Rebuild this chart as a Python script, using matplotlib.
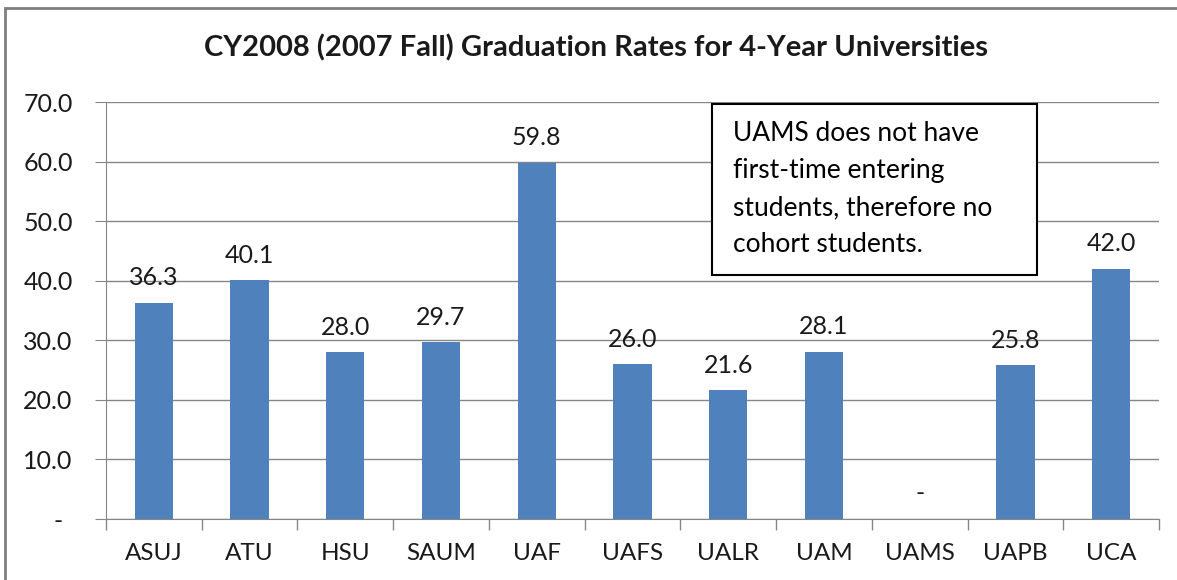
import matplotlib.pyplot as plt
import matplotlib.patches as patches
from matplotlib.transforms import ScaledTranslation
import numpy as np

# data
schools = ["ASUJ", "ATU", "HSU", "SAUM", "UAF", "UAFS", "UALR", "UAM", "UAMS", "UAPB", "UCA"]
grad_rates = [36.3, 40.1, 28.0, 29.7, 59.8, 26.0, 21.6, 28.1, 0.0, 25.8, 42.0]
y_ticks = [0, 10, 20, 30, 40, 50, 60, 70]
title = "CY2008 (2007 Fall) Graduation Rates for 4-Year Universities"
note = "UAMS does not have\nfirst-time entering\nstudents, therefore no\ncohort students."

plt.rcParams['font.family'] = ['Lato', 'DejaVu Sans']

W, H = 1177, 580
fig = plt.figure(figsize=(W / 100, H / 100), dpi=100)
ax = fig.add_axes([106 / W, 1 - 519 / H, (1159 - 106) / W, (519 - 102) / H])

x = np.arange(len(schools))
ax.bar(x, grad_rates, width=0.4, color="#4F81BD", zorder=3)

ax.set_xlim(-0.5, len(schools) - 0.5)
ax.set_ylim(0, 70)
ax.set_yticks(y_ticks)
ax.set_yticklabels(["-" if v == 0 else f"{v:.1f}" for v in y_ticks])
ax.set_xticks(x)
ax.set_xticklabels(schools)
ax.set_xticks(np.arange(len(schools) + 1) - 0.5, minor=True)

ax.grid(axis="y", color="#868686", linewidth=1, zorder=0)
for s in ["top", "right"]:
    ax.spines[s].set_visible(False)
for s in ["left", "bottom"]:
    ax.spines[s].set_color("#868686")
ax.tick_params(axis="x", which="major", length=0, labelsize=17.5, pad=17, colors="#1a1a1a")
ax.tick_params(axis="x", which="minor", length=8, color="#868686", width=1)
ax.tick_params(axis="y", length=8, color="#868686", labelsize=18, pad=16, colors="#1a1a1a")

# zero label sits further left like Excel accounting format
zero_lab = ax.get_yticklabels()[0]
zero_lab.set_transform(zero_lab.get_transform() + ScaledTranslation(-0.1, 0, fig.dpi_scale_trans))

for xi, v in zip(x, grad_rates):
    lab = "-" if v == 0 else f"{v:.1f}"
    ax.annotate(lab, (xi, v), xytext=(0, 18), textcoords="offset points",
                ha="center", va="center", fontsize=18, color="#1a1a1a")

fig.text(596 / W, 1 - 48 / H, title, ha="center", va="center",
         fontsize=21, fontweight="bold", color="#1a1a1a")

# note box
fig.patches.append(patches.Rectangle((712 / W, 1 - 275 / H), (1037 - 712) / W, (275 - 104) / H,
                                     transform=fig.transFigure, facecolor="white",
                                     edgecolor="black", linewidth=1.5, zorder=5))
fig.text(733 / W, 1 - 121 / H, note, ha="left", va="top", fontsize=19,
         linespacing=1.6, color="black", zorder=6)

# outer chart frame
fig.patches.append(patches.Rectangle((5 / W, -0.1), 1.2, 1 - 8 / H + 0.1,
                                     transform=fig.transFigure, fill=False,
                                     edgecolor="#7f7f7f", linewidth=2))

fig.savefig("out.png", dpi=100)
